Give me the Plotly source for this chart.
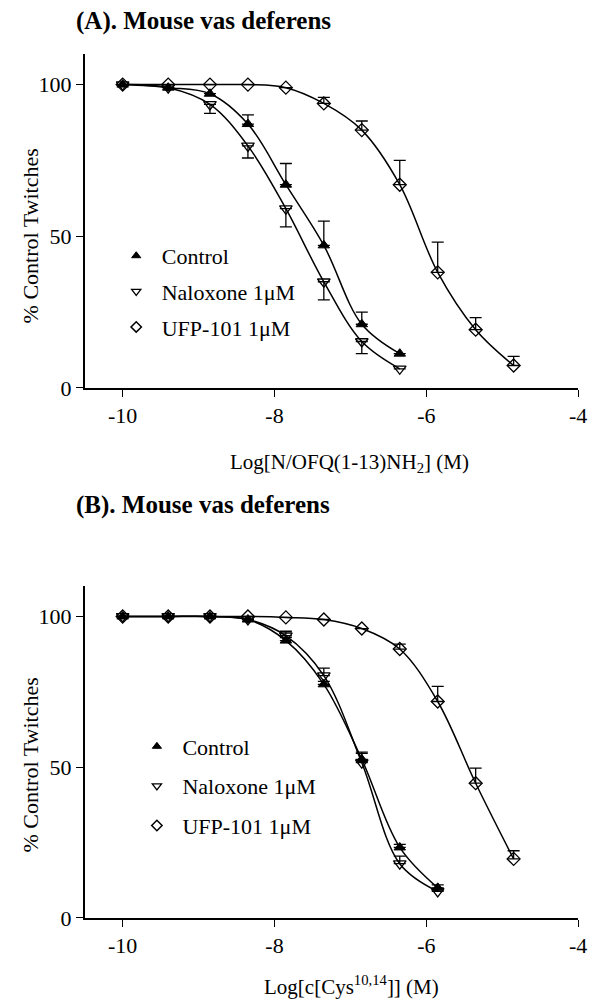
import plotly.graph_objects as go

# ---------------- data ----------------
LOG_CONC = [-10, -9.4, -8.85, -8.35, -7.85, -7.35, -6.85, -6.35, -5.85, -5.35, -4.85]

# Panel A : N/OFQ(1-13)NH2
A_control = [100, 99, 97, 87, 67, 47, 21, 11.3]
A_control_err = [0, 0, 0, 3, 7, 8, 4, 0]
A_naloxone = [100, 99, 93.5, 79.8, 59.1, 35.0, 15.3, 6.3]
A_naloxone_err = [0, 0, 3, 4, 6, 6, 4, 0]
A_ufp = [100, 100, 100, 100, 99, 93.8, 85, 67, 38.1, 19.2, 7.4]
A_ufp_err = [0, 0, 0, 0, 0, 2, 3, 8, 10, 4, 3]

# Panel B : c[Cys10,14]
B_control = [100, 100, 100, 99, 92, 77.5, 52.6, 23.4, 10]
B_control_err = [0, 0, 0, 0, 1, 1, 2, 1, 1]
B_naloxone = [100, 100, 100, 99, 93.6, 80.4, 51.5, 18, 8.8]
B_naloxone_err = [0, 0, 0, 0, 1.5, 2.5, 3.5, 2.5, 1]
B_ufp = [100, 100, 100, 100, 99.7, 99, 96, 89.2, 71.8, 44.7, 19.6]
B_ufp_err = [0, 0, 0, 0, 0, 0, 0, 1.6, 5, 5, 2.7]

SERIES_NAMES = ["Control", "Naloxone 1\u03bcM", "UFP-101 1\u03bcM"]
X_TICKS = [-10, -8, -6, -4]
X_TICK_TEXT = ["-10", "-8", "-6", "-4"]
Y_TICKS = [0, 50, 100]

FONT = "Liberation Serif, Times New Roman, serif"
W, H = 597, 1006

fig = go.Figure()

styles = [
    dict(symbol="triangle-up", size=10, color="black", line=dict(color="black", width=1)),
    dict(symbol="triangle-down-open", size=11, color="black", line=dict(color="black", width=1.3)),
    dict(symbol="diamond-open", size=10, color="black", line=dict(color="black", width=1.3)),
]
legend_styles = [
    dict(symbol="triangle-up", size=8, color="black", line=dict(color="black", width=1)),
    dict(symbol="triangle-down-open", size=8, color="black", line=dict(color="black", width=1.3)),
    dict(symbol="diamond-open", size=8, color="black", line=dict(color="black", width=1.5)),
]


def add_panel(xa, ya, legend, series, dirs):
    for i, (vals, err) in enumerate(series):
        xs = LOG_CONC[: len(vals)]
        fig.add_trace(go.Scatter(
            x=xs, y=vals, mode="lines", line=dict(color="black", width=1.5, shape="spline", smoothing=1.0),
            xaxis=xa, yaxis=ya, showlegend=False, hoverinfo="skip"))
        if dirs[i] == "up":
            ey = dict(type="data", symmetric=False, array=err, arrayminus=[0] * len(err),
                      color="black", thickness=1.3, width=6)
        else:
            ey = dict(type="data", symmetric=False, array=[0] * len(err), arrayminus=err,
                      color="black", thickness=1.3, width=6)
        fig.add_trace(go.Scatter(
            x=xs, y=vals, mode="markers", marker=styles[i], error_y=ey,
            xaxis=xa, yaxis=ya, showlegend=False))
        # legend entry (no data, smaller symbol like the reference key)
        fig.add_trace(go.Scatter(
            x=[None], y=[None], mode="markers", marker=legend_styles[i],
            xaxis=xa, yaxis=ya, name=" " + SERIES_NAMES[i], legend=legend,
            legendgroup=legend + str(i)))


add_panel("x", "y", "legend",
          [(A_control, A_control_err), (A_naloxone, A_naloxone_err), (A_ufp, A_ufp_err)],
          ["up", "down", "up"])
add_panel("x2", "y2", "legend2",
          [(B_control, B_control_err), (B_naloxone, B_naloxone_err), (B_ufp, B_ufp_err)],
          ["up", "up", "up"])

xdom = [86 / W, 587 / W]
yA = [1 - 393 / H, 1 - 55 / H]
yB = [1 - 930 / H, 1 - 594 / H]

axis_common = dict(showline=True, linecolor="black", linewidth=1.5, ticks="outside", ticklen=7,
                   tickwidth=1.3, tickcolor="black", showgrid=False, zeroline=False,
                   ticklabeloverflow="allow",
                   tickfont=dict(family=FONT, size=22, color="black"))

fig.update_layout(
    width=W, height=H, margin=dict(l=0, r=0, t=0, b=0),
    paper_bgcolor="white", plot_bgcolor="white",
    font=dict(family=FONT, size=22, color="black"),
    xaxis=dict(domain=xdom, range=[-10.5, -4], tickvals=X_TICKS, ticktext=X_TICK_TEXT, anchor="y",
               **axis_common),
    yaxis=dict(domain=yA, range=[0, 110], tickvals=Y_TICKS, anchor="x", **axis_common),
    xaxis2=dict(domain=xdom, range=[-10.5, -4], tickvals=X_TICKS, ticktext=X_TICK_TEXT, anchor="y2",
                **axis_common),
    yaxis2=dict(domain=yB, range=[0, 110], tickvals=Y_TICKS, anchor="x2", **axis_common),
    legend=dict(x=118 / W, y=1 - 238 / H, xanchor="left", yanchor="top", bgcolor="rgba(0,0,0,0)",
                font=dict(family=FONT, size=22), tracegroupgap=4, itemwidth=30),
    legend2=dict(x=139 / W, y=1 - 735 / H, xanchor="left", yanchor="top", bgcolor="rgba(0,0,0,0)",
                 font=dict(family=FONT, size=22), tracegroupgap=8, itemwidth=30),
    showlegend=True,
)

annots = [
    dict(text="<b>(A). Mouse vas deferens</b>", x=75 / W, y=1 - 21 / H, xanchor="left", yanchor="middle",
         font=dict(family=FONT, size=25)),
    dict(text="<b>(B). Mouse vas deferens</b>", x=75 / W, y=1 - 512 / H, xanchor="left", yanchor="middle",
         font=dict(family=FONT, size=25)),
    dict(text="% Control Twitches", textangle=-90, x=31 / W, y=1 - 239 / H, xanchor="center",
         yanchor="middle", font=dict(family=FONT, size=22)),
    dict(text="% Control Twitches", textangle=-90, x=31 / W, y=1 - 775 / H, xanchor="center",
         yanchor="middle", font=dict(family=FONT, size=22)),
    dict(text="Log[N/OFQ(1-13)NH<sub>2</sub>] (M)", x=355 / W, y=1 - 469 / H, xanchor="center",
         yanchor="middle", font=dict(family=FONT, size=21)),
    dict(text="Log[c[Cys<sup>10,14</sup>]] (M)", x=357 / W, y=1 - 998 / H, xanchor="center",
         yanchor="middle", font=dict(family=FONT, size=21)),
]
for a in annots:
    a.update(xref="paper", yref="paper", showarrow=False)
    fig.add_annotation(**a)

fig.write_html("out.html", post_script="document.body.style.margin='0';",
               config={"displayModeBar": False})
